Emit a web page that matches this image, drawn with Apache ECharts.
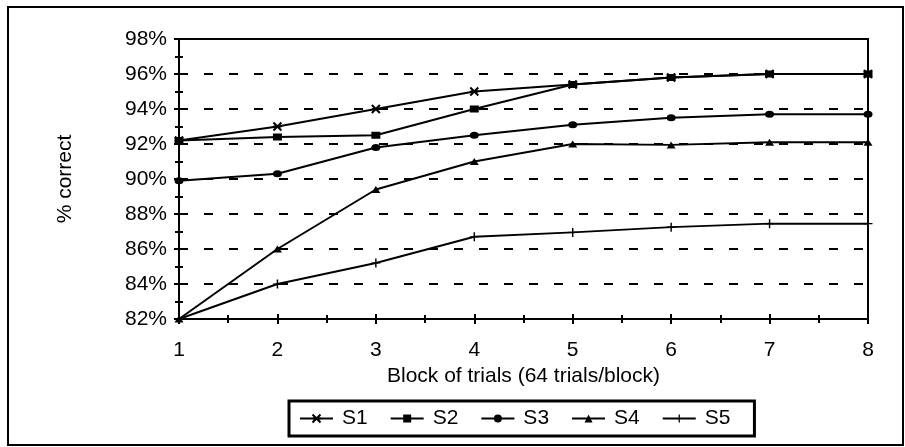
<!DOCTYPE html>
<html><head><meta charset="utf-8">
<script src="https://cdn.jsdelivr.net/npm/echarts@6/dist/echarts.min.js"></script>
<style>html,body{margin:0;padding:0;background:#fff}#c{width:905px;height:447px}</style>
</head><body><div id="c"></div>
<script>
const blocks = [1, 2, 3, 4, 5, 6, 7, 8];
const seriesNames = ['S1', 'S2', 'S3', 'S4', 'S5'];
const s1 = [92.2, 93.0, 94.0, 95.0, 95.4, 95.8, 96.0, 96.0];
const s2 = [92.2, 92.4, 92.5, 94.0, 95.4, 95.8, 96.0, 96.0];
const s3 = [89.9, 90.3, 91.8, 92.5, 93.1, 93.5, 93.7, 93.7];
const s4 = [82.0, 86.0, 89.4, 91.0, 92.0, 91.95, 92.1, 92.1];
const s5 = [82.0, 84.0, 85.2, 86.7, 86.95, 87.25, 87.45, 87.45];
const yTicks = [82, 84, 86, 88, 90, 92, 94, 96, 98];

const values = [s1, s2, s3, s4, s5];
const symbols = [
  'path://M0,0 L10,10 M10,0 L0,10 M0,5 L10,5',
  'rect',
  'circle',
  'triangle',
  'path://M0,4.4 L10,4.4 L10,5.6 L0,5.6 Z M4.2,0 L5.8,0 L5.8,10 L4.2,10 Z'
];
const symSizes = [[8, 8], [9, 7], [9, 7], [9, 7], [9, 9]];
const font = '"Liberation Sans", Arial, Helvetica, sans-serif';
const fs = 21;

const chart = echarts.init(document.getElementById('c'), null, {renderer: 'canvas'});

const axisCommon = {
  type: 'value',
  axisLine: {show: true, onZero: false, lineStyle: {color: '#000', width: 2}},
  axisTick: {show: true, length: 5, lineStyle: {color: '#000', width: 2}},
  minorTick: {show: true, splitNumber: 2, length: 4, lineStyle: {color: '#000', width: 2}}
};

chart.setOption({
  animation: false,
  backgroundColor: '#fff',
  graphic: [{
    type: 'rect', shape: {x: 8, y: 7, width: 895, height: 438},
    style: {fill: 'none', stroke: '#000', lineWidth: 2}, z: -1
  }],
  grid: {left: 179, right: 37, top: 39, bottom: 128, show: true, borderColor: '#000', borderWidth: 2},
  legend: {
    data: seriesNames,
    left: 289, top: 401,
    orient: 'horizontal',
    itemWidth: 33, itemHeight: 10, itemGap: 22,
    padding: [7, 24, 7, 10],
    borderColor: '#000', borderWidth: 3,
    backgroundColor: '#fff',
    textStyle: {color: '#000', fontSize: fs, fontFamily: font, padding: [0, 0, 0, 4]}
  },
  xAxis: [
    Object.assign({}, axisCommon, {
      min: 1, max: 8, interval: 1,
      name: 'Block of trials (64 trials/block)',
      nameLocation: 'middle', nameGap: 45,
      nameTextStyle: {color: '#000', fontSize: fs, fontFamily: font},
      axisLabel: {color: '#000', fontSize: fs, fontFamily: font, margin: 21},
      splitLine: {show: false}
    }),
    Object.assign({}, axisCommon, {
      min: 1, max: 8, interval: 1, position: 'bottom',
      axisLabel: {show: false}, splitLine: {show: false},
      axisTick: {show: true, inside: true, length: 5, lineStyle: {color: '#000', width: 2}},
      minorTick: {show: true, splitNumber: 2, length: 4, lineStyle: {color: '#000', width: 2}}
    })
  ],
  yAxis: [
    Object.assign({}, axisCommon, {
      min: yTicks[0], max: yTicks[yTicks.length - 1], interval: 2,
      name: '% correct', nameLocation: 'middle', nameGap: 103, nameRotate: 90,
      nameTextStyle: {color: '#000', fontSize: fs, fontFamily: font},
      axisLabel: {color: '#000', fontSize: fs, fontFamily: font, margin: 12, formatter: v => v + '%'},
      splitLine: {show: true, lineStyle: {color: '#000', width: 2, type: [9, 16]}}
    }),
    Object.assign({}, axisCommon, {
      min: yTicks[0], max: yTicks[yTicks.length - 1], interval: 2, position: 'left',
      axisLabel: {show: false}, splitLine: {show: false},
      axisTick: {show: true, inside: true, length: 5, lineStyle: {color: '#000', width: 2}},
      minorTick: {show: true, splitNumber: 2, length: 4, lineStyle: {color: '#000', width: 2}}
    })
  ],
  series: seriesNames.map((n, i) => ({
    name: n, type: 'line',
    data: blocks.map((b, j) => [b, values[i][j]]),
    symbol: symbols[i], symbolSize: symSizes[i],
    showAllSymbol: true,
    lineStyle: {color: '#000', width: 2},
    itemStyle: {color: '#000', borderColor: '#000', borderWidth: i === 0 ? 2 : 0},
    z: 5
  }))
});
</script></body></html>
